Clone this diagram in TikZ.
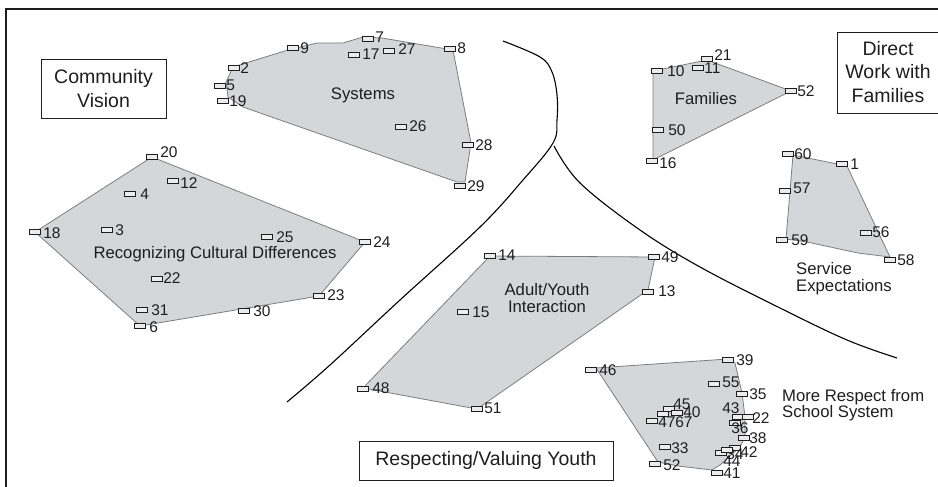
\documentclass[tikz,border=0pt]{standalone}
\usepackage{fontspec}
\setmainfont{Liberation Sans}
\usetikzlibrary{calc}
\definecolor{clfill}{RGB}{213,214,217}
\definecolor{cledge}{RGB}{125,125,125}
\definecolor{mkfill}{RGB}{236,236,236}
\definecolor{ink}{RGB}{30,30,30}
\tikzset{
 mkbox/.style={draw=ink, fill=mkfill, line width=0.9pt, minimum width=10.4pt, minimum height=5.8pt, inner sep=0pt, rectangle},
 num/.style={inner sep=0pt, text=ink, font=\fontsize{15.5}{15.5}\selectfont},
 cluster/.style={fill=clfill, draw=cledge, line width=0.8pt, line join=round},
 clabel/.style={text=ink, font=\fontsize{16.7}{17}\selectfont, align=center, inner sep=0pt},
 sidelabel/.style={text=ink, font=\fontsize{16.7}{16.2}\selectfont, align=left, inner sep=0pt, anchor=north west},
 boxtext/.style={text=ink, font=\fontsize{19.5}{23.5}\selectfont, align=center},
 boxlabel/.style={boxtext, draw=ink, line width=0.9pt},
 divider/.style={draw=black, line width=1.1pt},
}
\newcommand\mk[6]{\node[mkbox] (#1) at (#2,#3) {}; \node[num, anchor=west] (#1l) at ([shift={(#5,#6)}]#1.east) {#4};}
\begin{document}
\begin{tikzpicture}[x=1pt,y=-1pt]
\useasboundingbox (0,0) rectangle (938,487);
% frame
\draw[ink, line width=1.2pt] (6,490) -- (6,9) -- (942,9);
% dividing curves
\draw[divider] plot[smooth, tension=0.6] coordinates {(503,41) (540,57) (552,72) (557,95) (557,120) (553,143) (523,180) (480,227) (400,300) (330,365) (287,402)};
\draw[divider] plot[smooth, tension=0.6] coordinates {(554,146) (580,183) (640,230) (700,267) (780,308) (847,340) (897,358)};
% clusters
\path[cluster] (243,107) -- (457,182) -- (465,182) -- (471,143) -- (453,50) -- (382,38) -- (363,37) -- (343,43) -- (317,43) -- (288,50) -- (233,67) -- (226,82) -- (228,97) -- cycle;
\path[cluster] (653,71) -- (707,60) -- (791,91) -- (653,160) -- cycle;
\path[cluster] (793,155) -- (847,166) -- (890,257) -- (858,253) -- (807,242) -- (786,239) -- cycle;
\path[cluster] (152,157) -- (365,242) -- (319,296) -- (140,326) -- (35,232) -- cycle;
\path[cluster] (490,256) -- (655,257) -- (648,290) -- (477,409) -- (363,388) -- cycle;
\path[cluster] (596,368) -- (728,359) -- (735,363) -- (742,393) -- (745,417) -- (745,437) -- (740,447) -- (720,465) -- (712,470) -- (678,466) -- (658,462) -- cycle;
% cluster labels
\node[clabel] (lsys) at (363,95) {Systems};
\node[clabel] (lfam) at (706,99) {Families};
\node[clabel] (lrcd) at (215,254) {Recognizing Cultural Differences};
\node[clabel] (lay) at (547,298) {Adult/Youth\\Interaction};
\node[sidelabel] (lse) at (796,262.5) {Service\\Expectations};
\node[sidelabel] (lmr) at (782,389) {More Respect from\\School System};
% region boxes
\node[boxlabel, minimum width=125pt, minimum height=59pt] (cv) at (103.5,88.5) {Community\\Vision};
\node[boxlabel, minimum width=254pt, minimum height=39pt] (ry) at (486,460.5) {Respecting/Valuing Youth};
\node[boxtext] (dw) at (888,72) {Direct\\Work with\\Families};
\draw[ink, line width=0.9pt] (945,32) -| (837,113) -- (945,113);
% Systems
\mk{s9}{293}{48}{9}{1.5}{0}
\mk{s7}{368}{39}{7}{1.5}{-2}
\mk{s17}{354}{55}{17}{2.5}{-1}
\mk{s27}{389}{51}{27}{3.5}{-2}
\mk{s8}{450}{49}{8}{1.5}{-1}
\mk{s2}{234}{68}{2}{0.5}{0}
\mk{s5}{220}{86}{5}{0.5}{-1}
\mk{s19}{223}{101}{19}{0.5}{0}
\mk{s26}{401}{127}{26}{2.5}{-1}
\mk{s28}{468}{145}{28}{1.5}{0}
\mk{s29}{460}{186}{29}{1.5}{0}
% Families
\mk{f10}{657}{71}{10}{4.5}{0}
\mk{f11}{698}{68}{11}{0.5}{0}
\mk{f21}{707}{59}{21}{1.5}{-4}
\mk{f52}{791}{91}{52}{0.5}{0}
\mk{f50}{658}{130}{50}{4.5}{0}
\mk{f16}{652}{161}{16}{1.5}{2}
% Service Expectations
\mk{e60}{788}{154}{60}{0.5}{0}
\mk{e1}{842}{164}{1}{2.5}{0}
\mk{e57}{785}{191}{57}{2.5}{-3}
\mk{e59}{782}{240}{59}{3.5}{0}
\mk{e56}{866}{233}{56}{0.5}{-1}
\mk{e58}{890}{260}{58}{1.5}{0}
% Recognizing Cultural Differences
\mk{r20}{152}{157}{20}{2.5}{-5}
\mk{r12}{173}{181}{12}{1.5}{2}
\mk{r4}{130}{194}{4}{4.5}{0}
\mk{r18}{35}{232}{18}{2.5}{1}
\mk{r3}{107}{230}{3}{2.5}{0}
\mk{r25}{267}{237}{25}{3.5}{0}
\mk{r24}{365}{242}{24}{2.5}{0}
\mk{r22}{157}{279}{22}{0.5}{-1}
\mk{r23}{319}{296}{23}{2.5}{-1}
\mk{r31}{142}{310}{31}{3.5}{0}
\mk{r30}{244}{311}{30}{3.5}{0}
\mk{r6}{140}{326}{6}{3.5}{1}
% Adult/Youth Interaction
\mk{a14}{490}{256}{14}{2.5}{-1}
\mk{a49}{654}{257}{49}{1.5}{0.5}
\mk{a13}{648}{292}{13}{4.5}{-1}
\mk{a15}{463}{312}{15}{3.5}{0}
\mk{a48}{363}{389}{48}{3.5}{-1}
\mk{a51}{477}{409}{51}{1.5}{-1}
% More Respect from School System
\mk{m46}{591}{370}{46}{2.5}{0}
\mk{m39}{728}{360}{39}{2.5}{0}
\mk{m55}{714}{384}{55}{2.5}{-2}
\mk{m35}{742}{394}{35}{1.5}{0}
\mk{m45}{669}{409}{45}{-1.5}{-5}
\mk{m67}{663}{414}{67}{6.5}{8.5}
\mk{m40}{677}{413}{40}{0.5}{-0.5}
\mk{m47}{652}{421}{47}{0.5}{1.5}
\mk{m43}{738}{417}{43}{-21.5}{-9}
\mk{m22}{748}{417}{22}{-1.5}{1.5}
\mk{m36}{735}{423}{36}{-9.5}{5.5}
\mk{m38}{744}{438}{38}{-0.5}{0}
\mk{m42}{735}{448}{42}{-0.5}{4.5}
\mk{m34}{721}{453}{34}{-0.5}{1}
\mk{m44}{727}{450}{44}{-9.5}{11.5}
\mk{m41}{717}{473}{41}{0.5}{0}
\mk{m33}{665}{447}{33}{0.5}{1.5}
\mk{m52}{655}{464}{52}{2.5}{1.5}
\end{tikzpicture}
\end{document}
